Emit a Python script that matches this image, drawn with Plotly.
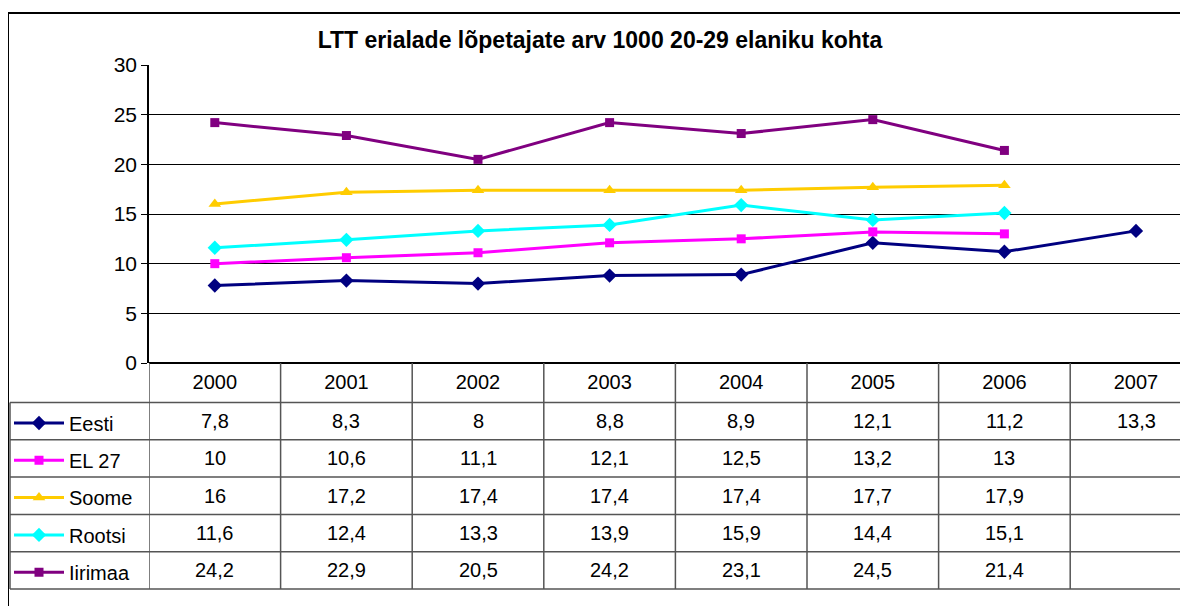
import plotly.graph_objects as go

years = [2000, 2001, 2002, 2003, 2004, 2005, 2006, 2007]
eesti = [7.8, 8.3, 8.0, 8.8, 8.9, 12.1, 11.2, 13.3]
el27 = [10, 10.6, 11.1, 12.1, 12.5, 13.2, 13, None]
soome = [16, 17.2, 17.4, 17.4, 17.4, 17.7, 17.9, None]
rootsi = [11.6, 12.4, 13.3, 13.9, 15.9, 14.4, 15.1, None]
iirimaa = [24.2, 22.9, 20.5, 24.2, 23.1, 24.5, 21.4, None]

series = [
    ("Eesti", eesti, "#000080", "diamond", 11),
    ("EL 27", el27, "#FF00FF", "square", 9),
    ("Soome", soome, "#FFCC00", "triangle-up", 11),
    ("Rootsi", rootsi, "#00FFFF", "diamond", 11),
    ("Iirimaa", iirimaa, "#800080", "square", 9),
]

FONT = "Arial, Liberation Sans, sans-serif"
# the page body adds an 8px margin, so the figure is 8px smaller than the window
W, H = 1180, 598
ML, MT, MB = 141, 57, 243
PW, PH = W - ML, H - MT - MB


# pixel -> paper helpers for the table frame
def px_x(X):
    return (X - ML) / PW


def px_y(Y):
    return (H - MB - Y) / PH


fig = go.Figure()
for i, (name, vals, col, sym, ms) in enumerate(series):
    fig.add_trace(go.Scatter(x=years, y=vals, name=name, mode="lines+markers",
                             line=dict(color=col, width=3),
                             marker=dict(symbol=sym, size=ms, color=col),
                             legendgroup=str(i), connectgaps=False))

# table geometry (pixels)
header_bottom = 394.5
row_h = 37.3
table_left = 2
table_bottom = header_bottom + row_h * len(series)

shapes = []
# horizontal lines of the table
for k in range(len(series) + 1):
    y = px_y(header_bottom + k * row_h)
    shapes.append(dict(type="line", xref="paper", yref="paper", x0=px_x(table_left), x1=1,
                       y0=y, y1=y, line=dict(color="#555555", width=1.5)))
# vertical lines of the table
for yr in [years[0] - 0.5] + [y + 0.5 for y in years]:
    shapes.append(dict(type="line", xref="x", yref="paper", x0=yr, x1=yr,
                       y0=0, y1=px_y(table_bottom), line=dict(color="#555555", width=1.5)))
shapes.append(dict(type="line", xref="paper", yref="paper", x0=px_x(table_left), x1=px_x(table_left),
                   y0=px_y(header_bottom), y1=px_y(table_bottom), line=dict(color="#555555", width=1.5)))
# outer chart border
shapes.append(dict(type="rect", xref="paper", yref="paper", x0=px_x(0), x1=1.2,
                   y0=-2, y1=px_y(5), line=dict(color="black", width=2)))

annotations = []
for k, (name, vals, col, sym, ms) in enumerate(series):
    yc = px_y(header_bottom + (k + 0.5) * row_h)
    for yr, v in zip(years, vals):
        if v is None:
            continue
        annotations.append(dict(x=yr, y=yc, xref="x", yref="paper", showarrow=False,
                                yanchor="middle", xanchor="center",
                                text=f"{v:g}".replace(".", ","),
                                font=dict(family=FONT, size=20, color="black")))

fig.update_layout(
    width=W, height=H,
    margin=dict(l=ML, r=0, t=MT, b=MB, autoexpand=False),
    paper_bgcolor="white", plot_bgcolor="white",
    title=dict(text="<b>LTT erialade lõpetajate arv 1000 20-29 elaniku kohta</b>",
               x=592 / W, xanchor="center", y=1 - 32 / H, yanchor="middle",
               font=dict(family=FONT, size=23, color="black")),
    xaxis=dict(range=[1999.5, 1999.5 + PW / 131.6], tickvals=years, showgrid=False,
               ticks="", showline=False, zeroline=False, ticklabelstandoff=5,
               tickfont=dict(family=FONT, size=20, color="black")),
    yaxis=dict(range=[0, 30], dtick=5, showgrid=True, gridcolor="black", gridwidth=1,
               showline=True, linecolor="black", linewidth=1.5, ticks="outside",
               ticklen=6, tickcolor="black", zeroline=True, zerolinecolor="black",
               zerolinewidth=1.5, tickfont=dict(family=FONT, size=21, color="black")),
    showlegend=True,
    legend=dict(x=px_x(1), xanchor="left", y=px_y(395.5), yanchor="top",
                font=dict(family=FONT, size=20, color="black"), tracegroupgap=8.3,
                bgcolor="rgba(0,0,0,0)", itemwidth=50, itemclick=False),
    shapes=shapes,
    annotations=annotations,
)

fig.write_html("out.html")
